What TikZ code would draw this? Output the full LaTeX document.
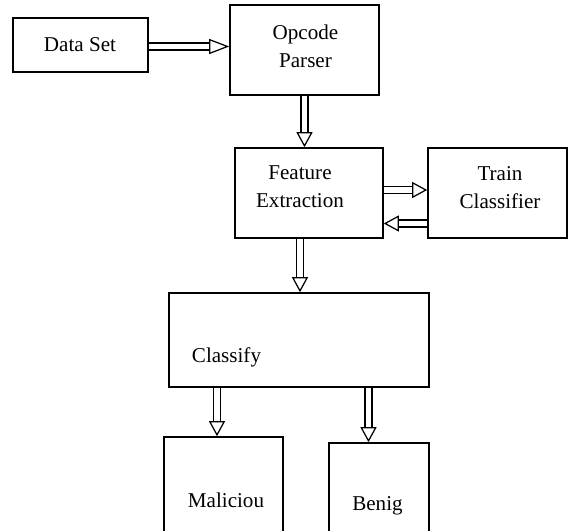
\documentclass[tikz,border=0pt]{standalone}
\usepackage{fontspec}
\setmainfont{Liberation Serif}
\usepackage{tikz}
\usetikzlibrary{calc,arrows.meta}
\tikzstyle{every picture}=[font=\fontsize{12}{16}\selectfont]
\tikzstyle{box}=[draw,line width=0.9pt,inner sep=0pt]
\tikzstyle{dbl}=[draw,line width=0.7pt,double,double distance=3.3pt,
  -{Triangle[open,fill=white,length=0.3cm,width=0.32cm,line width=0.7pt]}]

\begin{document}
\begin{tikzpicture}
    \useasboundingbox (0,0) rectangle (11.36,-10.62);
    % Data Set
    \node[box,minimum width=2.7cm,minimum height=1.08cm] (ds) at (1.61,-0.9) {};
    \node (dst) at (1.6,-0.9) {Data Set};
    % Opcode Parser
    \node[box,minimum width=2.98cm,minimum height=1.8cm] (op) at (6.09,-1.0) {};
    \node[align=center] (opt) at (6.11,-0.92) {Opcode\\Parser};
    % Feature Extraction
    \node[box,minimum width=2.96cm,minimum height=1.8cm] (fe) at (6.18,-3.86) {};
    \node[align=center] (fet) at (6.0,-3.74) {Feature\\Extraction};
    % Train Classifier
    \node[box,minimum width=2.78cm,minimum height=1.8cm] (tc) at (9.95,-3.86) {};
    \node[align=center] (tct) at (10.0,-3.75) {Train\\Classifier};
    % Classify
    \node[box,minimum width=5.2cm,minimum height=1.88cm] (cl) at (5.98,-6.8) {};
    \node (clt) at (4.53,-7.15) {Classify};
    % outputs, cut off at the bottom
    \node[box,minimum width=2.38cm,minimum height=2.46cm] (mal) at (4.47,-9.97) {};
    \node (malt) at (4.52,-10.0) {Maliciou};
    \node[box,minimum width=2.0cm,minimum height=2.34cm] (ben) at (7.58,-10.03) {};
    \node (bent) at (7.55,-10.12) {Benig};
    % arrows
    \draw[dbl,-{Triangle[open,fill=white,length=0.4cm,width=0.3cm,line width=0.7pt]}]
        ([yshift=-0.03cm]ds.east) -- ([yshift=-0.03cm]ds.east -| op.west);
    \draw[dbl] (op.south) -- (op.south |- fe.north);
    \draw[dbl] ([yshift=0.06cm]fe.east) -- ([yshift=0.06cm]fe.east -| tc.west);
    \draw[dbl] ([yshift=-0.61cm]tc.west) -- ([yshift=-0.61cm]tc.west -| fe.east);
    \draw[dbl] ([xshift=-0.18cm]fe.south) -- ([xshift=-0.18cm]fe.south |- cl.north);
    \draw[dbl] ([xshift=-0.13cm]mal.north |- cl.south) -- ([xshift=-0.13cm]mal.north);
    \draw[dbl] ([xshift=-0.21cm]ben.north |- cl.south) -- ([xshift=-0.21cm]ben.north);
\end{tikzpicture}
\end{document}
